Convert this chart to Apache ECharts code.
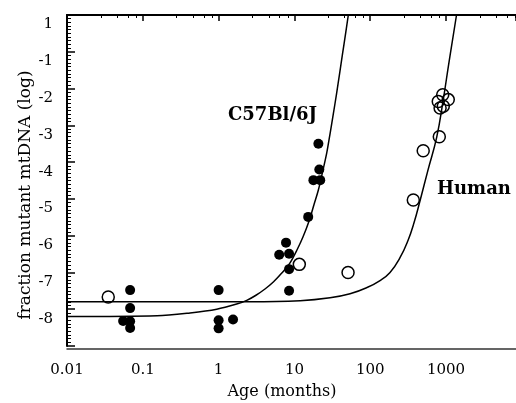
<!DOCTYPE html>
<html>
<head>
<meta charset="UTF-8">
<title>Mutant mtDNA vs age</title>
<script src="https://cdn.jsdelivr.net/npm/echarts@6/dist/echarts.min.js"></script>
<style>
  html, body { margin: 0; padding: 0; background: #fff; }
  #chart { width: 516px; height: 403px; }
</style>
</head>
<body>
<div id="chart"></div>
<script>
// tick labels
const ageTicks = [0.01, 0.1, 1, 10, 100, 1000];
const yTickValues = [0, -1, -2, -3, -4, -5, -6, -7, -8];
const yTickLabels = ['1', '-1', '-2', '-3', '-4', '-5', '-6', '-7', '-8'];

// C57Bl/6J mice (filled dots)
const mouseAge = [0.068, 0.068, 0.055, 0.068, 0.068, 1, 1, 1, 1.55, 6.3, 7.75, 8.5, 8.5, 8.5, 15.2, 17.8, 21.9, 21.3, 20.7];
const mouseLog = [-7.48, -7.97, -8.32, -8.33, -8.51, -7.48, -8.30, -8.52, -8.28, -6.52, -6.19, -6.49, -6.91, -7.50, -5.49, -4.49, -4.49, -4.20, -3.50];

// human (open circles)
const humanAge = [0.035, 11.6, 51, 370, 500, 815, 790, 835, 905, 920, 1070];
const humanLog = [-7.67, -6.78, -7.0, -5.03, -3.69, -3.31, -2.35, -2.53, -2.17, -2.48, -2.30];

// fitted curves
const mouseFitAge = [0.01, 0.154, 0.42, 0.944, 1.73, 2.35, 3.11, 4.09, 5.27, 6.86, 8.75, 10.8, 13.0, 15.6, 18.1, 20.7, 23.5, 26.7, 29.5, 32.6, 35.9, 39.4, 43.1, 47.2, 51.4];
const mouseFitLog = [-8.20, -8.18, -8.10, -8.00, -7.86, -7.76, -7.62, -7.45, -7.26, -7.01, -6.74, -6.39, -6.03, -5.60, -5.16, -4.76, -4.27, -3.75, -3.23, -2.69, -2.15, -1.60, -1.06, -0.52, 0];
const humanFitAge = [0.01, 2.6, 11.9, 29.5, 54.2, 90.8, 134.7, 182.5, 247, 315, 378, 454, 579, 754, 913, 1095, 1375];
const humanFitLog = [-7.80, -7.80, -7.77, -7.69, -7.58, -7.41, -7.22, -7.00, -6.60, -6.13, -5.65, -5.05, -4.21, -3.32, -2.34, -1.28, 0];

const zip = (a, b) => a.map((v, i) => [v, b[i]]);
const serif = 'DejaVu Serif';
const ageMax = 8375; // right edge of the frame

const chart = echarts.init(document.getElementById('chart'));

const lineOnlyX = (extra) => Object.assign({
  type: 'log', logBase: 10, min: 0.01, max: ageMax,
  axisLabel: { show: false }, axisTick: { show: false },
  splitLine: { show: false },
  axisLine: { lineStyle: { color: '#000', width: 1.5 } }
}, extra);

chart.setOption({
  backgroundColor: '#fff',
  animation: false,
  grid: { left: 67, top: 15, right: 0, height: 331 },
  xAxis: [
    {
      type: 'log', logBase: 10, min: 0.01, max: ageMax,
      axisLine: { lineStyle: { color: '#000', width: 1.5 } },
      axisTick: { show: true, length: 6, lineStyle: { color: '#000', width: 1.5 } },
      minorTick: { show: true, splitNumber: 5, length: 3, lineStyle: { color: '#000' } },
      splitLine: { show: false },
      axisLabel: {
        fontFamily: serif, fontSize: 15, color: '#000', margin: 17,
        showMaxLabel: false,
        formatter: v => {
          const n = Number((+v).toPrecision(6));
          return ageTicks.includes(n) ? String(n) : '';
        }
      }
    },
    lineOnlyX({ position: 'top', axisLine: { lineStyle: { color: '#000', width: 2 } } }),
    lineOnlyX({ position: 'bottom', offset: 3, axisLine: { lineStyle: { color: '#333', width: 1.5 } } })
  ],
  yAxis: {
    type: 'value', min: -9, max: 0, interval: 1,
    axisLine: { show: true, lineStyle: { color: '#000', width: 2 } },
    axisTick: { show: true, inside: true, length: 8, lineStyle: { color: '#000', width: 1.5 } },
    minorTick: { show: true, splitNumber: 10, length: 4, lineStyle: { color: '#000' } },
    splitLine: { show: false },
    axisLabel: {
      fontFamily: serif, fontSize: 15, color: '#000', margin: 14,
      verticalAlign: 'top', padding: [2, 0, 0, 0],
      formatter: v => {
        const i = yTickValues.indexOf(v);
        return i >= 0 ? yTickLabels[i] : '';
      }
    }
  },
  series: [
    {
      type: 'line', data: zip(mouseFitAge, mouseFitLog), smooth: 0.3,
      showSymbol: false, clip: true,
      lineStyle: { color: '#000', width: 1.5 }
    },
    {
      type: 'line', data: zip(humanFitAge, humanFitLog), smooth: 0.45,
      showSymbol: false, clip: true,
      lineStyle: { color: '#000', width: 1.5 }
    },
    {
      type: 'scatter', data: zip(mouseAge, mouseLog), symbolSize: 10,
      itemStyle: { color: '#000', opacity: 1 }
    },
    {
      type: 'scatter', data: zip(humanAge, humanLog), symbolSize: 12,
      itemStyle: { color: 'rgba(255,255,255,0)', borderColor: '#000', borderWidth: 1.5, opacity: 1 }
    }
  ],
  graphic: [
    { type: 'text', x: 26, y: 195, rotation: Math.PI / 2,
      style: { text: 'fraction mutant mtDNA (log)', font: '17px "DejaVu Serif"', fill: '#000',
               align: 'center', verticalAlign: 'middle' } },
    { type: 'text', x: 282, y: 392,
      style: { text: 'Age (months)', font: '16px "DejaVu Serif"', fill: '#000',
               align: 'center', verticalAlign: 'middle' } },
    { type: 'text', x: 228, y: 106,
      style: { text: 'C57Bl/6J', font: 'bold 18px "DejaVu Serif"', fill: '#000' } },
    { type: 'text', x: 437, y: 180,
      style: { text: 'Human', font: 'bold 18px "DejaVu Serif"', fill: '#000' } }
  ]
});
</script>
</body>
</html>
